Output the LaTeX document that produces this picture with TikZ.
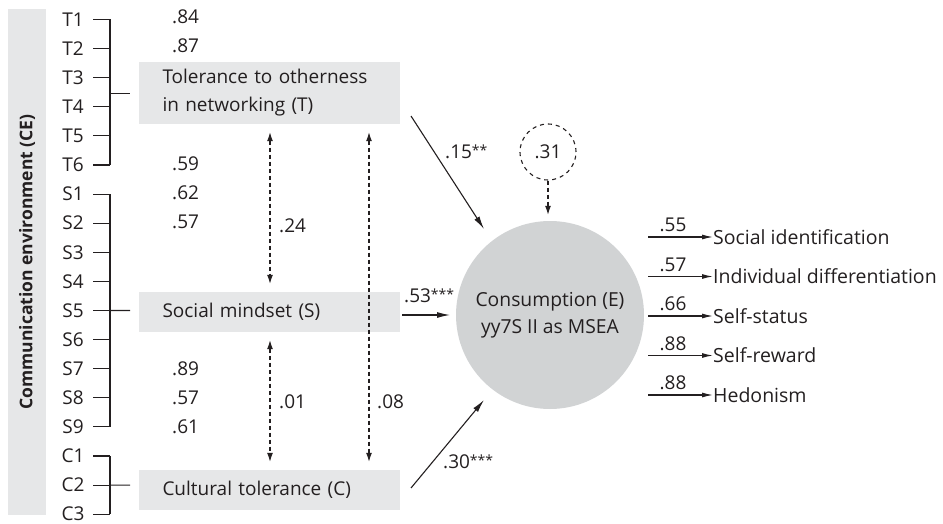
\documentclass[tikz,border=0pt]{standalone}
\usepackage{fontspec}
\setmainfont{Open Sans}
\usetikzlibrary{arrows.meta,calc}
\definecolor{ink}{HTML}{231F20}
\definecolor{boxgray}{HTML}{E6E7E8}
\definecolor{circgray}{HTML}{D1D3D4}
\newcommand{\stars}[1]{\raisebox{3pt}{\fontsize{14}{14}\selectfont #1}}
\begin{document}
\begin{tikzpicture}[x=1pt,y=-1pt,
  font=\fontsize{19}{28}\selectfont,
  every node/.style={text=ink},
  line/.style={draw=ink, line width=1.1pt},
  arr/.style={line, -{Latex[length=13pt,width=6pt]}},
  dasharr/.style={line, dash pattern=on 4pt off 3pt, {Latex[length=9pt,width=6pt]}-{Latex[length=9pt,width=6pt]}},
  lv/.style={inner sep=0pt, anchor=west},
  latent/.style={fill=boxgray, minimum width=261pt, inner xsep=24pt, text width=213pt, align=left, anchor=center},
  item/.style={inner sep=0pt, anchor=center}]
\useasboundingbox (0,0) rectangle (943,524);

% left bar
\node[fill=boxgray, rotate=90, minimum width=506pt, minimum height=38pt, inner sep=0pt, font=\fontsize{17.5}{20}\selectfont\bfseries] (CE) at (27,262) {Communication environment (CE)};

% items
\foreach \lab [count=\i from 0] in {T1,T2,T3,T4,T5,T6,S1,S2,S3,S4,S5,S6,S7,S8,S9,C1,C2,C3}{
  \pgfmathsetmacro{\yy}{19.5+29.1*\i}
  \node[item] (\lab) at (73,\yy) {\lab};
  \coordinate (\lab a) at (93,\yy);
  \coordinate (\lab b) at (110,\yy);
  \draw[line] (\lab a) -- (\lab b);
}
\draw[line] (T1b) -- (T6b);
\draw[line] (S1b) -- (S9b);
\draw[line] (C1b) -- (C3b);

% latent boxes
\node[latent, minimum height=62pt] (T) at (269,93) {Tolerance to otherness\\in networking (T)};
\node[latent, minimum height=40pt] (S) at (269,312) {Social mindset (S)};
\node[latent, minimum height=40pt] (C) at (269,490) {Cultural tolerance (C)};

\coordinate (Tj) at (110,93.5);
\coordinate (Tk) at (130,93.5);
\draw[line] (Tj) -- (Tk);
\coordinate (Sk) at (130,310.5);
\draw[line] (S5b) -- (Sk);
\coordinate (Ck) at (130,485.1);
\draw[line] (C2b) -- (Ck);

% loadings
\node[lv] at (172,17) {.84};
\node[lv] at (172,46) {.87};
\node[lv] at (172,163.5) {.59};
\node[lv] at (172,193) {.62};
\node[lv] at (172,222) {.57};
\node[lv] at (172,369) {.89};
\node[lv] at (172,398) {.57};
\node[lv] at (172,427) {.61};

% correlations
\coordinate (xa) at (270,0);
\coordinate (xb) at (369,0);
\draw[dasharr, shorten <=8pt, shorten >=8pt] (T.south -| xa) -- (S.north -| xa);
\draw[dasharr, shorten <=8pt, shorten >=8pt] (S.south -| xa) -- (C.north -| xa);
\draw[dasharr, shorten <=8pt, shorten >=8pt] (T.south -| xb) -- (C.north -| xb);
\node[lv] at (279,226) {.24};
\node[lv] at (279,402) {.01};
\node[lv] at (377,402) {.08};

% endogenous
\node[circle, fill=circgray, minimum size=188pt, inner sep=0pt, align=center, font=\fontsize{19.3}{27}\selectfont] (E) at (550,315) {Consumption (E)\\yy7S II as MSEA};
\node[circle, draw=ink, line width=1.1pt, dash pattern=on 4pt off 4pt, minimum size=56pt, inner sep=0pt] (R) at (548,152) {.31};
\draw[line, dash pattern=on 4pt off 3pt, -{Latex[length=9pt,width=6pt]}, shorten >=6pt] (R.south) -- (R.south |- E.north);

% structural paths
\coordinate (t0) at (411,116);
\coordinate (t1) at (484,229);
\draw[arr] (t0) -- (t1);
\node[anchor=west, inner sep=0pt] at (445,152) {.15\stars{**}};
\coordinate (s0) at (402,315);
\coordinate (s1) at (450,315);
\draw[arr] (s0) -- (s1);
\node[anchor=west, inner sep=0pt] at (404,296) {.53\stars{***}};
\coordinate (c0) at (411,488);
\coordinate (c1) at (484,400);
\draw[arr] (c0) -- (c1);
\node[anchor=west, inner sep=0pt] at (443,462) {.30\stars{***}};

% indicators
\foreach \txt/\val/\yy/\nm in {Social identification/.55/237/o1, Individual differentiation/.57/276.5/o2, Self-status/.66/316/o3, Self-reward/.88/355.5/o4, Hedonism/.88/395/o5}{
  \node[anchor=west, inner sep=0pt, font=\fontsize{19.5}{24}\selectfont] (\nm) at (713,\yy) {\txt};
  \coordinate (\nm s) at (648,\yy);
  \draw[line, -{Latex[length=11pt,width=5pt]}] (\nm s) -- (\nm.west);
  \node[inner sep=0pt] at (673,\yy-12) {\val};
}
\end{tikzpicture}
\end{document}
